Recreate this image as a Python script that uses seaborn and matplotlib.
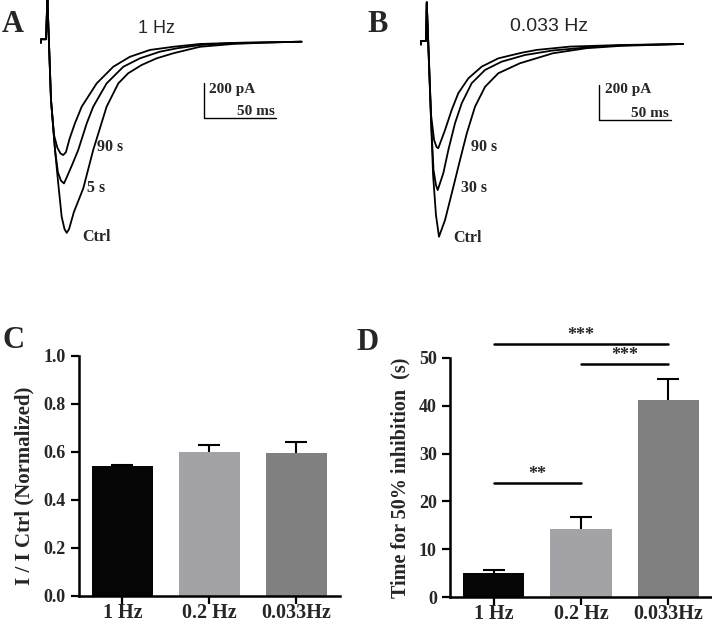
import matplotlib
matplotlib.use("Agg")
import matplotlib.pyplot as plt
import numpy as np
import pandas as pd
import seaborn as sns

sns.set_theme(style="ticks")
plt.rcParams['font.family'] = ['Liberation Serif', 'DejaVu Serif']
plt.rcParams['font.weight'] = 'bold'

# ---------------- data ----------------
freq_labels = ["1 Hz", "0.2 Hz", "0.033Hz"]
ratio_mean = [0.54, 0.60, 0.595]
ratio_sem = [0.005, 0.03, 0.045]
t50_mean = [5.1, 14.3, 41.2]
t50_sem = [0.6, 2.4, 4.5]
bar_colors = ["#050505", "#a3a3a7", "#808080"]

sig_pairs = [(0, 2), (1, 2), (0, 1)]
sig_heights = [52.9, 48.7, 23.8]
sig_labels = ["***", "***", "**"]

# Panel A traces (time ms, current pA)
pre_A_t = [-4.9, -4.9, -1.4, -0.4]
pre_A_I = [-6, 14, 14, 245]
ctrlA_t = [2.1, 4.9, 7.1, 9.5, 11.5, 13.0, 14.6, 18.0, 24.5, 31.4, 40.7, 48.8, 55.7, 65.0, 75.4, 87.0, 105.5, 128.4, 151.3, 176.0]
ctrlA_I = [-333, -619, -807, -999, -1070, -1091, -1070, -972, -837, -618, -371, -238, -180, -133, -95, -66, -29, -13, -5, 0]
s5A_t = [2.1, 4.9, 6.9, 9.0, 11.1, 12.8, 16.7, 21.0, 26.9, 31.4, 40.7, 52.3, 63.8, 77.7, 89.3, 105.5, 128.4, 151.3, 176.0]
s5A_I = [-333, -619, -745, -793, -809, -778, -704, -618, -466, -371, -238, -143, -95, -57, -38, -19, -7, -4, 0]
s90A_t = [2.1, 4.2, 6.6, 8.7, 10.6, 12.5, 14.9, 18.7, 23.4, 33.8, 45.3, 56.9, 70.8, 87.0, 105.5, 128.4, 151.3, 176.0]
s90A_I = [-333, -533, -607, -638, -647, -630, -556, -466, -371, -238, -143, -86, -47, -29, -13, -7, -4, 0]
labelsA = ["Ctrl", "5 s", "90 s"]

# Panel B traces (time ms, current pA)
pre_B_t = [-4.2, -4.2, -0.7, -0.2]
pre_B_I = [-6, 14, 14, 235]
ctrlB_t = [2.8, 4.2, 6.2, 8.3, 12.5, 18.3, 22.9, 27.6, 33.3, 40.3, 49.5, 64.5, 87.4, 110.8, 133.9, 177.7]
ctrlB_I = [-437, -751, -979, -1103, -1008, -818, -665, -513, -361, -247, -170, -113, -56, -27, -14, -3]
s30B_t = [2.8, 4.5, 6.2, 7.4, 11.3, 14.8, 19.4, 24.1, 31.0, 40.3, 51.8, 68.0, 87.4, 110.8, 133.9, 177.7]
s30B_I = [-437, -722, -808, -837, -741, -608, -456, -341, -227, -151, -104, -66, -40, -23, -11, -3]
s90B_t = [2.8, 4.9, 6.6, 7.8, 12.5, 17.1, 21.7, 28.7, 38.0, 49.5, 65.7, 76.1, 99.2, 133.9, 177.7]
s90B_I = [-408, -551, -591, -598, -494, -380, -284, -199, -132, -85, -53, -37, -18, -9, -3]
labelsB = ["Ctrl", "30 s", "90 s"]

# ---------------- figure ----------------
W, H = 712, 624
fig = plt.figure(figsize=(W / 100, H / 100), dpi=100)


def fx(px):
    return px / W


def fy(py):
    return 1 - py / H


def draw_traces(ax, pre_t, pre_I, traces):
    for tt, ii in traces:
        df = pd.DataFrame({"t": list(pre_t) + list(tt), "I": list(pre_I) + list(ii)})
        sns.lineplot(data=df, x="t", y="I", ax=ax, estimator=None, sort=False,
                     color="black", linewidth=1.3)
    ax.set_axis_off()


# Panel A
axA = fig.add_axes([0, fy(260), 0.5, 260 / H])
draw_traces(axA, pre_A_t, pre_A_I, [(ctrlA_t, ctrlA_I), (s5A_t, s5A_I), (s90A_t, s90A_I)])
axA.set_xlim(-33.3, 213.8)
axA.set_ylim(-1246, 238)
for lab, (tx, ty) in zip(labelsA, [(23.6, -1115), (27.1, -835), (34.0, -602)]):
    axA.text(tx, ty, lab, ha="left", va="center", fontsize=11.5, fontweight="bold")
axA.text(75.4, 77, "1 Hz", ha="center", va="center", fontsize=13,
         family="Liberation Sans", fontweight="normal")
axA.plot([108.3, 108.3, 158.3], [-237, -437, -437], color="black", lw=1.0)
axA.text(111.7, -270, "200 pA", ha="left", va="center", fontsize=11)
axA.text(157.5, -396, "50 ms", ha="right", va="center", fontsize=11)

# Panel B
axB = fig.add_axes([0.5, fy(260), 0.5, 260 / H])
draw_traces(axB, pre_B_t, pre_B_I, [(ctrlB_t, ctrlB_I), (s30B_t, s30B_I), (s90B_t, s90B_I)])
axB.set_xlim(-49.3, 197.8)
axB.set_ylim(-1236, 248)
for lab, (tx, ty) in zip(labelsB, [(18.0, -1111), (23.6, -825), (30.5, -591)]):
    axB.text(tx, ty, lab, ha="left", va="center", fontsize=11.5, fontweight="bold")
axB.text(84.7, 96, "0.033 Hz", ha="center", va="center", fontsize=14,
         family="Liberation Sans", fontweight="normal")
axB.plot([119.6, 119.6, 169.6], [-238, -438, -438], color="black", lw=1.0)
axB.text(123.5, -262, "200 pA", ha="left", va="center", fontsize=11)
axB.text(168.0, -399, "50 ms", ha="right", va="center", fontsize=11)


def bar_panel(ax, means, sems, ylim, yticks, fmt):
    df = pd.DataFrame({"freq": freq_labels, "val": means})
    sns.barplot(data=df, x="freq", y="val", hue="freq", palette=bar_colors,
                width=0.7, ax=ax, legend=False, errorbar=None, saturation=1,
                linewidth=0)
    eb = ax.errorbar(range(len(means)), means, yerr=[np.zeros(len(sems)), sems],
                     fmt="none", ecolor="black", elinewidth=1.5, capsize=8,
                     capthick=1.5, zorder=5)
    caps = eb[1]
    if len(caps) > 1:
        caps[0].set_visible(False)
    ax.set_xlim(-0.5, 2.5)
    ax.set_ylim(*ylim)
    ax.set_yticks(yticks)
    ax.set_yticklabels([fmt.format(v) for v in yticks])
    ax.set_xlabel("")
    sns.despine(ax=ax)
    for s in ["left", "bottom"]:
        ax.spines[s].set_linewidth(1.8)
        ax.spines[s].set_color("black")
    ax.tick_params(axis="both", direction="out", length=6, width=1.6, color="black")
    ax.tick_params(axis="y", labelsize=13)
    ax.tick_params(axis="x", labelsize=14.5, pad=-1)
    for t in ax.get_xticklabels() + ax.get_yticklabels():
        t.set_fontweight("bold")


# Panel C
axC = fig.add_axes([fx(79), 1 - 596 / H, 261 / W, 240 / H])
bar_panel(axC, ratio_mean, ratio_sem, (0, 1.0), [0.0, 0.2, 0.4, 0.6, 0.8, 1.0], "{:.1f}")
axC.set_ylabel("I / I Ctrl (Normalized)", fontsize=15, fontweight="bold")
axC.yaxis.set_label_coords(-0.17, 0.46)

# Panel D
axD = fig.add_axes([fx(450), 1 - 597 / H, 262 / W, 239 / H])
bar_panel(axD, t50_mean, t50_sem, (0, 50), [0, 10, 20, 30, 40, 50], "{:d}")
axD.set_ylabel("Time for 50% inhibition  (s)", fontsize=14.5, fontweight="bold")
axD.yaxis.set_label_coords(-0.15, 0.5)
for (x1, x2), h, lab in zip(sig_pairs, sig_heights, sig_labels):
    axD.plot([x1, x2], [h, h], color="black", lw=1.8, clip_on=False)
    axD.text((x1 + x2) / 2, h + 1.9, lab, ha="center", va="center",
             fontsize=13, clip_on=False)

# Panel letters
for letter, (px, py) in zip("ABCD", [(2, 25), (367, 24), (2, 341), (356, 342)]):
    fig.text(fx(px), fy(py), letter, ha="left", va="center", fontsize=22,
             fontweight="bold")

fig.savefig("out.png", dpi=100)
